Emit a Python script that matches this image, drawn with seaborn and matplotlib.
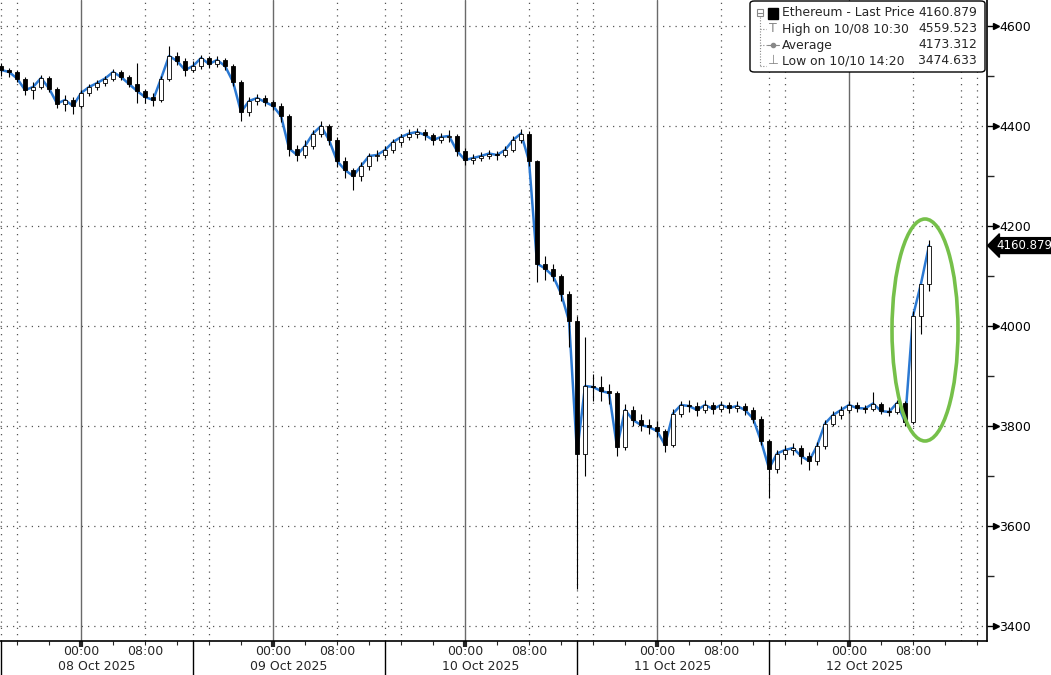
import numpy as np
import pandas as pd
import seaborn as sns
import matplotlib.pyplot as plt
from matplotlib.patches import Ellipse, FancyBboxPatch, Rectangle

# hourly candles, Ethereum, from 07 Oct 2025 14:00
closes = [4512, 4508, 4495, 4472, 4478, 4496, 4475, 4445, 4452, 4440,
          4466, 4478, 4486, 4495, 4508, 4498, 4484, 4470, 4458, 4452,
          4495, 4540, 4530, 4512, 4520, 4536, 4524, 4532, 4520, 4488,
          4428, 4450, 4456, 4448, 4440, 4420, 4355, 4342, 4360, 4385,
          4400, 4372, 4330, 4312, 4300, 4320, 4340, 4342, 4352, 4368,
          4378, 4385, 4388, 4382, 4372, 4378, 4380, 4350, 4332, 4336,
          4340, 4345, 4342, 4352, 4372, 4385, 4330, 4125, 4115, 4100,
          4065, 4010, 3745, 3880, 3878, 3870, 3866, 3758, 3832, 3812,
          3802, 3798, 3790, 3762, 3825, 3842, 3840, 3832, 3842, 3834,
          3842, 3836, 3840, 3832, 3815, 3770, 3715, 3745, 3752, 3756,
          3740, 3730, 3760, 3805, 3822, 3832, 3842, 3836, 3835, 3845,
          3830, 3828, 3846, 3808, 4020, 4085, 4160.879]
highs = [4526, 4516, 4512, 4498, 4488, 4502, 4500, 4478, 4462, 4458,
         4472, 4484, 4492, 4500, 4514, 4512, 4502, 4526, 4475, 4466,
         4500, 4560, 4548, 4536, 4530, 4542, 4540, 4540, 4536, 4524,
         4492, 4458, 4464, 4462, 4452, 4446, 4424, 4362, 4372, 4392,
         4410, 4404, 4378, 4338, 4316, 4328, 4346, 4352, 4360, 4374,
         4384, 4394, 4396, 4394, 4386, 4386, 4392, 4384, 4356, 4344,
         4348, 4352, 4350, 4360, 4380, 4394, 4390, 4332, 4140, 4124,
         4105, 4070, 4020, 3978, 3905, 3900, 3885, 3870, 3845, 3840,
         3825, 3815, 3810, 3795, 3835, 3850, 3852, 3848, 3852, 3848,
         3850, 3848, 3850, 3846, 3838, 3820, 3775, 3752, 3762, 3766,
         3762, 3748, 3768, 3812, 3830, 3840, 3850, 3848, 3842, 3868,
         3848, 3838, 3852, 3850, 4030, 4082, 4172]
lows = [4500, 4498, 4488, 4462, 4455, 4474, 4468, 4436, 4430, 4425,
        4436, 4460, 4472, 4480, 4490, 4492, 4478, 4446, 4446, 4440,
        4448, 4490, 4522, 4500, 4508, 4514, 4516, 4518, 4512, 4480,
        4410, 4420, 4442, 4440, 4432, 4408, 4340, 4330, 4336, 4354,
        4378, 4362, 4318, 4296, 4272, 4290, 4312, 4330, 4336, 4346,
        4360, 4372, 4376, 4372, 4362, 4366, 4368, 4340, 4322, 4324,
        4330, 4334, 4332, 4338, 4348, 4366, 4320, 4088, 4092, 4090,
        4050, 3958, 3475, 3700, 3850, 3850, 3845, 3740, 3752, 3800,
        3790, 3785, 3778, 3748, 3758, 3818, 3828, 3820, 3826, 3824,
        3828, 3826, 3828, 3822, 3806, 3762, 3656, 3706, 3734, 3742,
        3724, 3712, 3722, 3755, 3800, 3815, 3826, 3828, 3826, 3830,
        3824, 3820, 3824, 3800, 3805, 3985, 4070]
first_open = 4520

legend_rows = ["Ethereum - Last Price", "High on 10/08 10:30", "Average", "Low on 10/10 14:20"]
legend_vals = ["4160.879", "4559.523", "4173.312", "3474.633"]
day_labels = ["08 Oct 2025", "09 Oct 2025", "10 Oct 2025", "11 Oct 2025", "12 Oct 2025"]
y_ticks = [3400, 3600, 3800, 4000, 4200, 4400, 4600]

times = pd.date_range("2025-10-07 14:00", periods=len(closes), freq="h")
opens = [first_open] + closes[:-1]
df = pd.DataFrame({"time": times, "open": opens, "high": highs, "low": lows, "close": closes})

sns.set_style("white")
plt.rcParams['font.family'] = ['DejaVu Sans']

fig = plt.figure(figsize=(10.51, 6.75), dpi=100)
ax = fig.add_axes([0, 34 / 675, 987 / 1051, 641 / 675])

t0 = times[0]
H = pd.Timedelta(hours=1)
ax.set_xlim(t0 - pd.Timedelta(minutes=8), t0 + 123.25 * H)
ax.set_ylim(3370, 4652)

# grid
dot = (0, (1, 4))
for v in y_ticks:
    ax.axhline(v, color='#555555', lw=0.9, ls=dot, zorder=1)
days = pd.date_range("2025-10-08", periods=5, freq="D")
for d in days:
    ax.axvline(d, color='#6a6a6a', lw=1.0, zorder=1)
dotted = [t0, t0 + 2 * H]
for d in days:
    dotted += [d + 8 * H, d + 14 * H, d + 16 * H]
for d in dotted:
    ax.axvline(d, color='#555555', lw=0.9, ls=dot, zorder=1)

# candles
w = 0.4 / 24
ax.vlines(df["time"], df["low"], df["high"], color='black', lw=0.8, zorder=3)
up = df["close"] >= df["open"]
body = (df["close"] - df["open"]).abs().clip(lower=1.5)
bottom = df[["open", "close"]].min(axis=1)
ax.bar(df["time"][up], body[up], bottom=bottom[up], width=w,
       color='white', edgecolor='black', lw=0.6, zorder=4)
ax.bar(df["time"][~up], body[~up], bottom=bottom[~up], width=w,
       color='black', edgecolor='black', lw=0.6, zorder=4)

sns.lineplot(data=df, x="time", y="close", ax=ax, color='#2b79d3', lw=1.8, zorder=2)

# highlight
ell = Ellipse((t0 + 115.5 * H, 3992), width=8.25 / 24, height=444,
              fill=False, edgecolor='#76c04a', lw=2.6, zorder=6)
ax.add_patch(ell)

# spines
for s in ["top", "left"]:
    ax.spines[s].set_visible(False)
ax.spines["right"].set_color('black')
ax.spines["bottom"].set_color('black')
ax.spines["right"].set_linewidth(1.2)
ax.spines["bottom"].set_linewidth(1.2)

# y axis on right
ax.yaxis.tick_right()
ax.set_yticks(y_ticks)
ax.set_yticks([3500, 3700, 3900, 4100, 4300, 4500], minor=True)
ax.tick_params(axis='y', which='major', length=7, width=1, pad=2, labelsize=9,
               colors='black', right=True)
ax.tick_params(axis='y', which='minor', length=5, width=1, right=True)
ax.set_yticklabels([str(v) for v in y_ticks])
ytr = ax.get_yaxis_transform()
ax.plot([1.009] * len(y_ticks), y_ticks, marker='>', ls='none', ms=5, color='black',
        transform=ytr, clip_on=False)
ax.set_ylabel("")

# last price tag
ax.text(1.009, closes[-1], legend_vals[0], transform=ytr, color='white', fontsize=8.5,
        va='center', ha='left',
        bbox=dict(boxstyle='larrow,pad=0.12', fc='black', ec='black'), clip_on=False, zorder=7)

# x axis
major = list(days)
minor = [t0 + (2 + 4 * k) * H for k in range(31)]
ax.set_xticks(major)
ax.set_xticks(minor, minor=True)
ax.set_xticklabels([])
ax.tick_params(axis='x', which='major', length=4, width=3, direction='out', bottom=True)
ax.tick_params(axis='x', which='minor', length=3, width=0.8, direction='out', bottom=True)
ax.set_xlabel("")
xtr = ax.get_xaxis_transform()
for d, lab in zip(days, day_labels):
    ax.text(d, -0.016, "00:00", transform=xtr, ha='center', va='center', fontsize=9)
    ax.text(d + 8 * H, -0.016, "08:00", transform=xtr, ha='center', va='center', fontsize=9)
    ax.text(d + 2 * H, -0.040, lab, transform=xtr, ha='center', va='center', fontsize=9)
for k in range(5):
    b = t0 + 24 * k * H
    ax.plot([b, b], [0, -0.06], color='black', lw=1.0, transform=xtr, clip_on=False)

# legend box
fw, fh = 1051, 675
def fx(px):
    return px / fw
def fy(py):
    return 1 - py / fh
box = FancyBboxPatch((fx(750), fy(72)), fx(985) - fx(750), fy(1) - fy(72),
                     boxstyle='round,pad=0,rounding_size=0.004', transform=fig.transFigure,
                     fc='white', ec='black', lw=1.0, zorder=10)
fig.patches.append(box)
rows_y = [13, 29, 45, 61]
for yy, lab, val in zip(rows_y, legend_rows, legend_vals):
    fig.text(fx(782), fy(yy), lab, fontsize=8.9, va='center', ha='left', zorder=11)
    fig.text(fx(977), fy(yy), val, fontsize=8.9, va='center', ha='right', zorder=11)
gray = '#888888'
fig.patches.append(Rectangle((fx(757), fy(16)), fx(6), 7 / fh, transform=fig.transFigure,
                             fc='white', ec=gray, lw=0.8, zorder=11))
fig.lines.append(plt.Line2D([fx(758), fx(762)], [fy(12.5)] * 2, transform=fig.transFigure,
                            color=gray, lw=0.8, zorder=12))
fig.lines.append(plt.Line2D([fx(760), fx(760)], [fy(17), fy(66)], transform=fig.transFigure,
                            color=gray, lw=0.8, ls=(0, (1, 1.5)), zorder=11))
for yy in [29, 45, 66]:
    fig.lines.append(plt.Line2D([fx(760), fx(766)], [fy(yy)] * 2, transform=fig.transFigure,
                                color=gray, lw=0.8, ls=(0, (1, 1.5)), zorder=11))
fig.patches.append(Rectangle((fx(768), fy(19)), fx(10), 11 / fh, transform=fig.transFigure,
                             fc='black', ec='black', zorder=11))
fig.text(fx(773), fy(29), "T", fontsize=9, color=gray, ha='center', va='center', zorder=11)
fig.lines.append(plt.Line2D([fx(767), fx(779)], [fy(45)] * 2, transform=fig.transFigure,
                            color=gray, lw=0.8, zorder=11))
fig.lines.append(plt.Line2D([fx(773)], [fy(45)], transform=fig.transFigure,
                            color=gray, marker='o', ms=3, zorder=12))
fig.text(fx(773), fy(61), "\u22a5", fontsize=9, color=gray, ha='center', va='center', zorder=11)

fig.savefig("out.png", dpi=100)
